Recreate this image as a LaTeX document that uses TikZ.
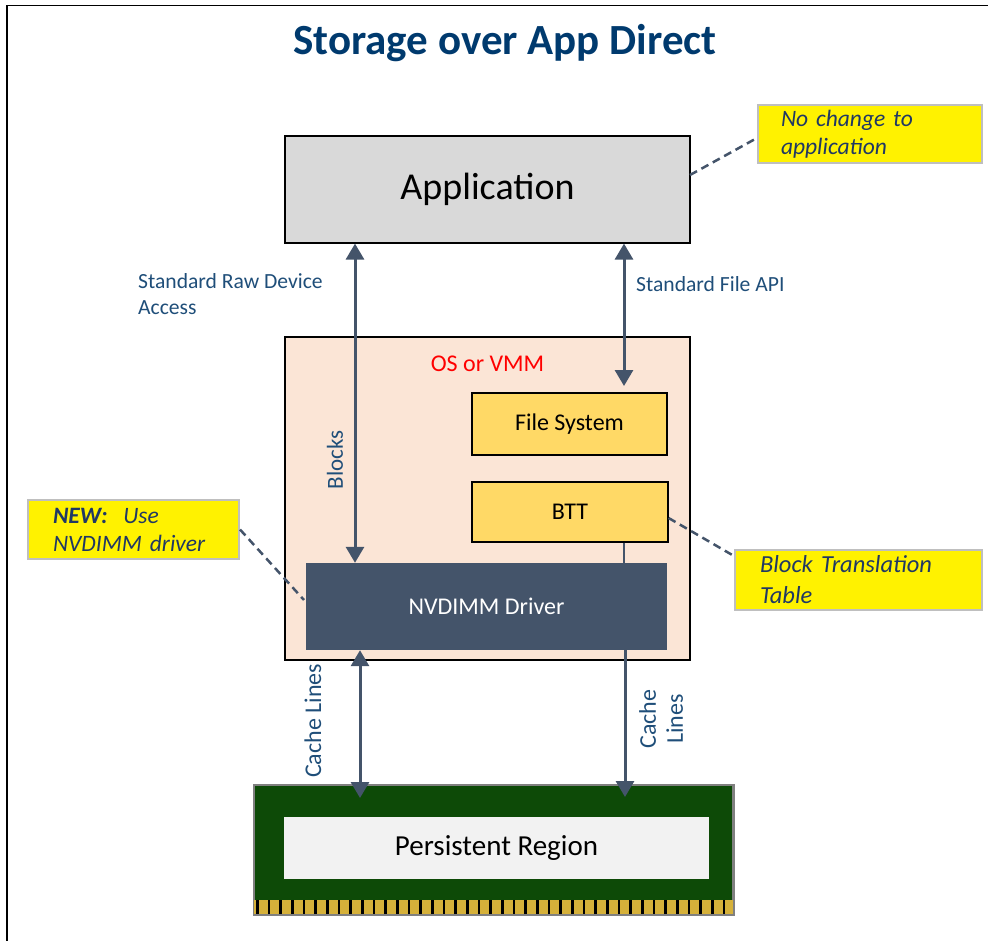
\documentclass[tikz,border=0pt]{standalone}
\usepackage{fontspec}
\setmainfont{Carlito}
\usetikzlibrary{arrows.meta}
\definecolor{titleblue}{HTML}{003A6E}
\definecolor{lblue}{HTML}{1F4E79}
\definecolor{cblue}{HTML}{203864}
\definecolor{slate}{HTML}{44546A}
\definecolor{appgray}{HTML}{D9D9D9}
\definecolor{osfill}{HTML}{FBE5D6}
\definecolor{fsfill}{HTML}{FFD966}
\definecolor{pcbgreen}{HTML}{0D4A07}
\definecolor{regfill}{HTML}{F2F2F2}
\definecolor{gold}{HTML}{D6B13A}
\definecolor{calloutborder}{HTML}{BFBFBF}
\tikzset{
  boxstyle/.style={draw=black, line width=1.2pt, inner sep=0pt, anchor=center},
  callout/.style={draw=calloutborder, line width=2pt, fill=yellow, inner sep=0pt, align=left,
     text=cblue, font=\fontsize{23.5}{28}\selectfont\itshape},
  lbl/.style={text=lblue, font=\fontsize{21.6}{26}\selectfont, inner sep=0pt},
  dbl/.style={draw=slate, line width=3pt, {Triangle[width=18pt,length=16pt]}-{Triangle[width=18pt,length=16pt]}},
  single/.style={draw=slate, line width=3pt, -{Triangle[width=18pt,length=16pt]}},
  leader/.style={draw=slate, line width=2.5pt, dash pattern=on 8pt off 5pt},
}
\begin{document}
\begin{tikzpicture}[x=1pt,y=-1pt]
\useasboundingbox (0,0) rectangle (988,941);
% frame lines
\draw[line width=1.5pt] (7,941) -- (7,5.5) -- (988,5.5);

% title
\node[text=titleblue, font=\fontsize{43}{50}\selectfont\bfseries, inner sep=0pt] (title) at (505,43) {Storage over App Direct};

% application
\node[boxstyle, fill=appgray, minimum width=405pt, minimum height=107pt,
      font=\fontsize{38}{44}\selectfont] (app) at (487.5,189.5) {Application};

% OS box
\node[boxstyle, fill=osfill, minimum width=405pt, minimum height=323pt] (os) at (487.5,498.5) {};
\node[text=red, font=\fontsize{24}{28}\selectfont, inner sep=0pt] (oslbl) at (487.5,364) {OS or VMM};

\node[boxstyle, fill=fsfill, minimum width=195pt, minimum height=62pt,
      font=\fontsize{24}{28}\selectfont] (fs) at (569.5,424) {File System};
\node[boxstyle, fill=fsfill, minimum width=196pt, minimum height=60pt,
      font=\fontsize{24}{28}\selectfont] (btt) at (570,512) {BTT};
\node[fill=slate, inner sep=0pt, minimum width=361pt, minimum height=87pt, text=white,
      font=\fontsize{24}{28}\selectfont] (drv) at (486.5,606.5) {NVDIMM Driver};

% memory module
\node[draw=gray, line width=1.5pt, fill=pcbgreen, inner sep=0pt, minimum width=479pt, minimum height=129pt] (mod) at (493.5,849.5) {};
\fill[gold] (254,899.5) rectangle (733,914);
\foreach \i in {0,...,40} {
  \fill[black] ({257.3+11.67*\i-1.3},899.5) rectangle ({257.3+11.67*\i+1.3},914);
}
\draw[gray, line width=1.5pt] (mod.north west) rectangle (mod.south east);
\node[fill=regfill, inner sep=0pt, minimum width=425pt, minimum height=62pt,
      font=\fontsize{29}{34}\selectfont] (reg) at (496.5,848) {Persistent Region};

% arrow x positions
\coordinate (xl) at (355,0);
\coordinate (xr) at (624,0);
\coordinate (xcl) at (360,0);
\coordinate (xcr) at (625,0);
\coordinate (fstop) at (624,386);
\coordinate (modtop) at (625,797);
\coordinate (modtopl) at (360,798);

\draw[dbl] (app.south -| xl) -- (drv.north -| xl);
\draw[dbl] (app.south -| xr) -- (fstop);
\draw[draw=slate, line width=2pt] (btt.south -| xr) -- (drv.north -| xr);
\draw[dbl] (drv.south -| xcl) -- (modtopl);
\draw[single] (drv.south -| xcr) -- (modtop);

% labels
\node[lbl, align=left, anchor=west] (rawlbl) at (138,294) {Standard Raw Device\\Access};
\node[lbl, anchor=west] (filelbl) at (636,284) {Standard File API};
\node[lbl, font=\fontsize{23}{28}\selectfont, rotate=90] (blocks) at (335,460) {Blocks};
\node[lbl, font=\fontsize{24}{28}\selectfont, rotate=90] (cl1) at (313,721) {Cache Lines};
\node[lbl, font=\fontsize{24}{27}\selectfont, rotate=90, align=center] (cl2) at (661,719) {Cache\\Lines};

% callouts
\node[callout, minimum width=224pt, minimum height=58pt, text width=178pt] (c1) at (870,134) {No change to\\application};
\node[callout, minimum width=211pt, minimum height=59pt, text width=161pt] (c2) at (133.5,529.5) {\textbf{NEW:}\ \ Use\\NVDIMM driver};
\node[callout, minimum width=247pt, minimum height=60pt, text width=197pt, font=\fontsize{24.5}{31}\selectfont\itshape] (c3) at (858.5,580) {Block Translation\\Table};

\draw[leader] (690,175) -- (c1.west |- 0,138);
\draw[leader] (c2.east) -- (304,600);
\draw[leader] (btt.east) ++(0,6) -- (c3.west |- 0,556);
\end{tikzpicture}
\end{document}
